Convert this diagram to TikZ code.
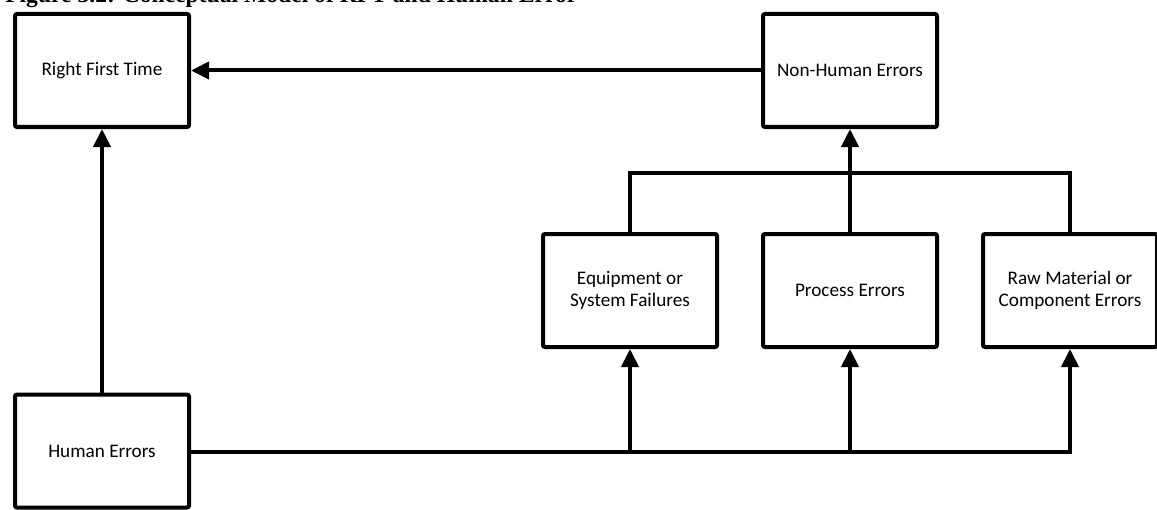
\documentclass[tikz,border=0pt]{standalone}
\usepackage{fontspec}
\setmainfont{Carlito}
\newfontfamily\titlefont{Liberation Serif}
\usetikzlibrary{arrows.meta}
\begin{document}
\begin{tikzpicture}[x=0.75pt,y=-0.75pt,
  box/.style={draw=black,line width=3pt,rounded corners=1.5pt,fill=white,
    minimum width=130.5pt,minimum height=84.75pt,inner sep=0pt,align=center,
    font=\fontsize{14.4}{16.3}\selectfont},
  conn/.style={line width=3pt},
  arr/.style={conn,-{Triangle[length=13.5pt,width=12.75pt]}}]
\useasboundingbox (0,0) rectangle (1157,510);
\node[anchor=base west,inner sep=0pt,font=\titlefont\bfseries\fontsize{17.7}{20}\selectfont] (title) at (5,3) {Figure 3.2: Conceptual Model of RFT and Human Error};
\node[box] (rft) at (102,70.5) {Right First Time};
\node[box] (nhe) at (850,70.5) {Non-Human Errors};
\node[box] (he) at (102,451) {Human Errors};
\node[box] (eq) at (630,290.5) {Equipment or\\System Failures};
\node[box] (pe) at (850,290.5) {Process Errors};
\node[box] (rm) at (1070,290.5) {Raw Material or\\Component Errors};
\coordinate (barl) at (630,173);
\coordinate (barr) at (1070,173);
\draw[arr] (nhe) -- (rft);
\draw[arr] (he) -- (rft);
\draw[arr] (pe) -- (nhe);
\draw[conn] (eq.north) -- (barl) -- (barr) -- (rm.north);
\draw[arr] (he.east |- 0,452) -| (eq.south);
\draw[arr] (he.east |- 0,452) -| (pe.south);
\draw[arr] (he.east |- 0,452) -| (rm.south);
\end{tikzpicture}
\end{document}
